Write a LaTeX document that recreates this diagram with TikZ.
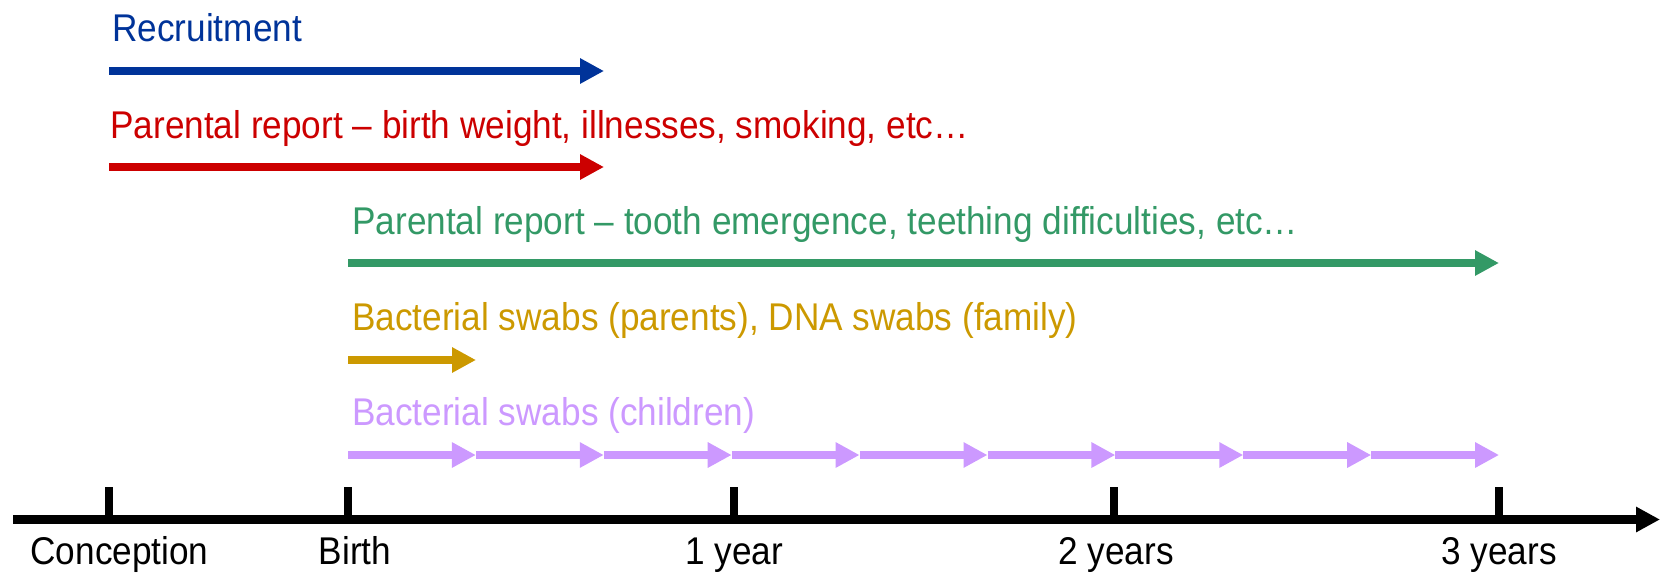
\documentclass[tikz,border=0pt]{standalone}
\usepackage{fontspec}
\setmainfont{Liberation Sans}[FakeStretch=0.91]
\usetikzlibrary{arrows.meta}

\definecolor{recblue}{RGB}{0,51,153}
\definecolor{repred}{RGB}{204,0,0}
\definecolor{toothgreen}{RGB}{51,153,102}
\definecolor{swabgold}{RGB}{204,153,0}
\definecolor{swablilac}{RGB}{204,153,255}

\begin{document}
\begin{tikzpicture}[x=0.75pt,y=-0.75pt,
  lbl/.style={anchor=base west, inner sep=0pt, font=\fontsize{29}{34}\selectfont},
  axislbl/.style={anchor=base, inner sep=0pt, font=\fontsize{29}{34}\selectfont},
  bar/.style={line width=6pt, -{Triangle[length=18pt,width=18pt]}},
  axisline/.style={line width=6.75pt, -{Triangle[length=18pt,width=18pt]}},
  tick/.style={line width=6pt}]
  \useasboundingbox (0,0) rectangle (1664,572);

  % study activities
  \node[lbl, text=recblue] (trec) at (112,41.7) {Recruitment};
  \coordinate (rec0) at (109,71);
  \coordinate (rec1) at (604,71);
  \draw[bar, recblue] (rec0) -- (rec1);

  \node[lbl, text=repred] (tpar) at (110,138) {Parental report – birth weight, illnesses, smoking, etc…};
  \coordinate (par0) at (109,167);
  \coordinate (par1) at (604,167);
  \draw[bar, repred] (par0) -- (par1);

  \node[lbl, text=toothgreen] (ttooth) at (352,234) {Parental report – tooth emergence, teething difficulties, etc…};
  \coordinate (tooth0) at (348,263);
  \coordinate (tooth1) at (1499,263);
  \draw[bar, toothgreen] (tooth0) -- (tooth1);

  \node[lbl, text=swabgold] (tfam) at (352,330.5) {Bacterial swabs (parents), DNA swabs (family)};
  \coordinate (fam0) at (348,360);
  \coordinate (fam1) at (476,360);
  \draw[bar, swabgold] (fam0) -- (fam1);

  \node[lbl, text=swablilac] (tchild) at (352,425.7) {Bacterial swabs (children)};
  \foreach \i in {0,...,9} {
    \coordinate (child\i) at ({348+127.9*\i},455);
  }
  \foreach \i in {0,...,8} {
    \pgfmathtruncatemacro{\nxt}{\i+1}
    \draw[bar, swablilac] (child\i) -- (child\nxt);
  }

  % time axis
  \coordinate (ax0) at (13,519.5);
  \coordinate (ax1) at (1660,519.5);
  \draw[axisline] (ax0) -- (ax1);

  \foreach \name/\x in {conc/109, birth/348, y1/734, y2/1114, y3/1499} {
    \coordinate (\name top) at (\x,487);
    \coordinate (\name base) at (\x,519.5);
    \draw[tick] (\name top) -- (\name base);
  }

  \node[axislbl] (lconc) at (119.5,564) {Conception};
  \node[axislbl] (lbirth) at (355,564) {Birth};
  \node[axislbl] (ly1) at (734,564) {1 year};
  \node[axislbl] (ly2) at (1116,564) {2 years};
  \node[axislbl] (ly3) at (1499,564) {3 years};
\end{tikzpicture}
\end{document}
